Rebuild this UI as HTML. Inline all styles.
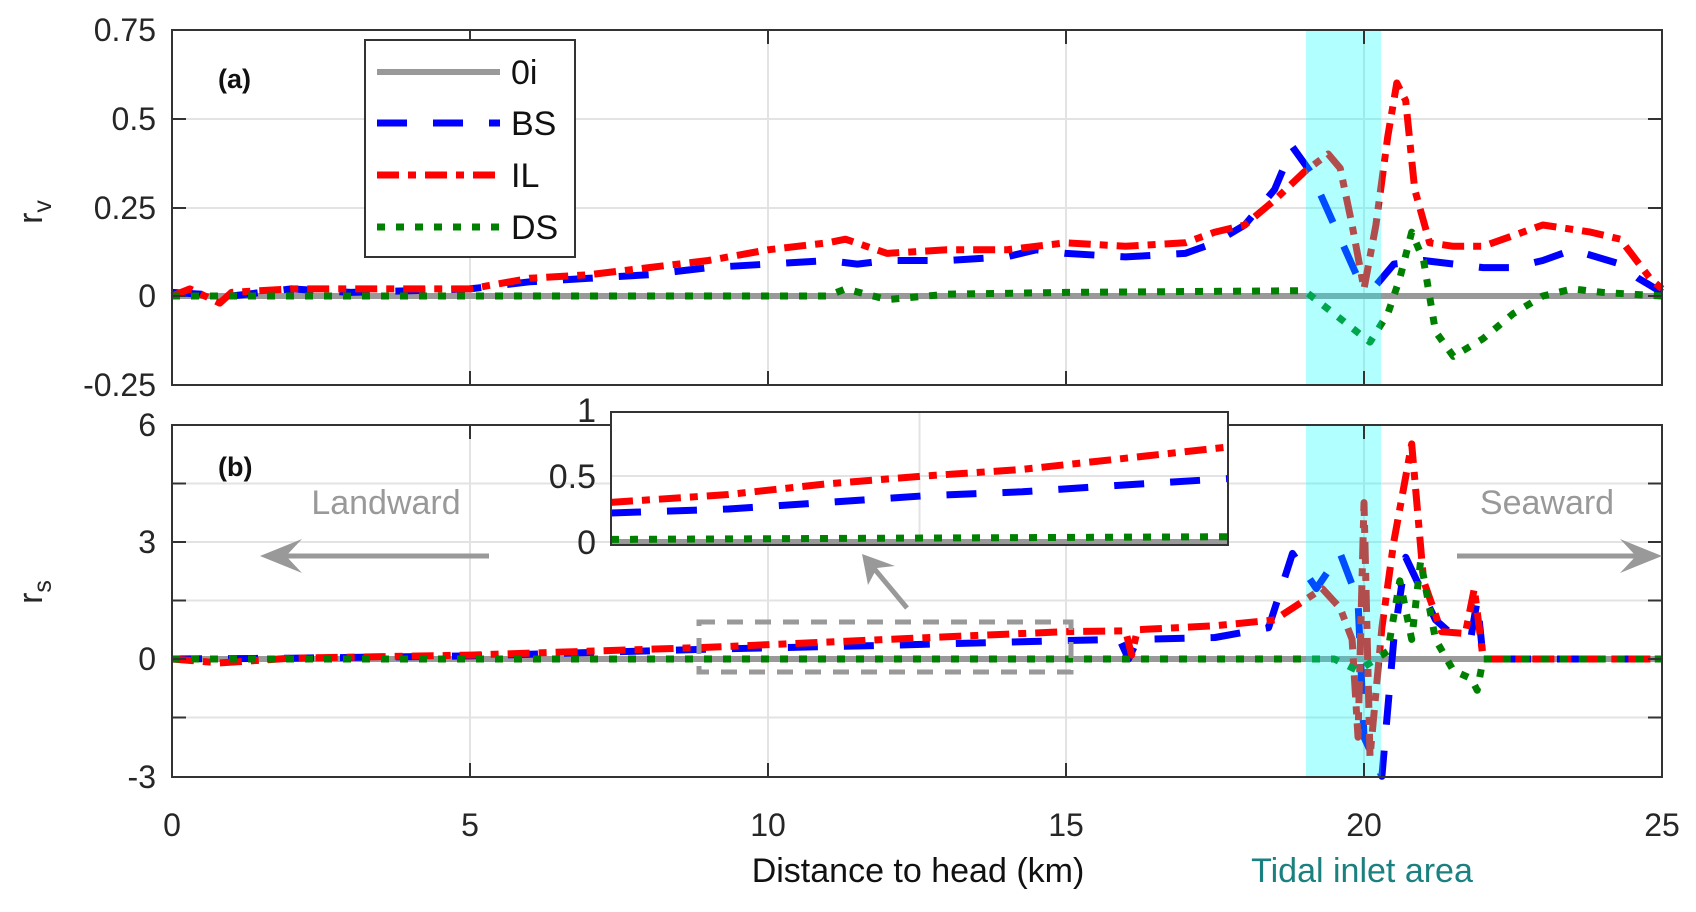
<!DOCTYPE html>
<html><head><meta charset="utf-8"><style>
body{margin:0;background:#fff}
svg{display:block;font-family:"Liberation Sans",Arial,sans-serif}
</style></head><body>
<svg id="s" width="1696" height="912" xmlns="http://www.w3.org/2000/svg"></svg>
<script>
const S=document.getElementById('s');let h='';
const L=172,R=1662;
const X=k=>L+k*(R-L)/25;
const Ya=v=>296-v*355;
const Yb=v=>659-v*39.11;
function poly(pts,fx,fy,st){return '<polyline fill="none" stroke-linejoin="round" points="'+pts.map(p=>fx(p[0]).toFixed(1)+','+fy(p[1]).toFixed(1)).join(' ')+'" '+st+'/>';}
const BS='stroke="#0000ff" stroke-width="7" stroke-dasharray="30 26"';
const IL='stroke="#ff0000" stroke-width="7" stroke-dasharray="22 9 8 9"';
const DS='stroke="#008000" stroke-width="7" stroke-dasharray="8 11"';
const GR='stroke="#999" stroke-width="6"';
function frame(top,bot,gridys){
 h+=`<rect x="${L}" y="${top}" width="${R-L}" height="${bot-top}" fill="#fff"/>`;
 for(let k=5;k<25;k+=5)h+=`<line x1="${X(k)}" y1="${top}" x2="${X(k)}" y2="${bot}" stroke="#e3e3e3" stroke-width="2"/>`;
 gridys.forEach(y=>h+=`<line x1="${L}" y1="${y}" x2="${R}" y2="${y}" stroke="#e3e3e3" stroke-width="2"/>`);
}
frame(30,385,[119,208,296]);
frame(425,777,[483.5,542,600.5,659,717.5]);
const aBS=[[0,0.01],[1,0],[2,0.02],[3,0.01],[4,0.015],[5,0.02],[6,0.04],[7,0.05],[8,0.06],[9,0.08],[10,0.09],[11,0.1],[11.5,0.09],[12,0.1],[13,0.1],[14,0.11],[14.5,0.13],[15,0.12],[16,0.11],[17,0.12],[17.5,0.15],[18,0.2],[18.5,0.3],[18.8,0.42],[19.1,0.35],[19.5,0.2],[19.9,0.05],[20.2,0.03],[20.5,0.09],[21,0.1],[22,0.08],[22.5,0.08],[23,0.1],[23.5,0.13],[24.3,0.09],[24.6,0.05],[25,0.01]];
const aIL=[[0,0],[0.3,0.02],[0.8,-0.02],[1,0.01],[2,0.02],[3,0.02],[4,0.02],[5,0.02],[6,0.05],[7,0.06],[8,0.08],[9,0.1],[10,0.13],[11,0.15],[11.3,0.16],[12,0.12],[13,0.13],[14,0.13],[15,0.15],[16,0.14],[17,0.15],[17.5,0.18],[18,0.2],[18.5,0.27],[19,0.35],[19.4,0.4],[19.6,0.36],[19.8,0.2],[20,0.02],[20.2,0.2],[20.4,0.45],[20.55,0.6],[20.7,0.55],[20.85,0.3],[21.1,0.15],[21.5,0.14],[22,0.14],[22.5,0.17],[23,0.2],[23.8,0.18],[24.3,0.16],[24.8,0.05],[25,0.02]];
const aDS=[[0,0],[11,0],[11.3,0.02],[12,-0.01],[13,0.005],[15,0.01],[19,0.015],[19.5,-0.05],[20.1,-0.13],[20.4,-0.05],[20.6,0.05],[20.8,0.18],[21,0.1],[21.2,-0.1],[21.5,-0.17],[22,-0.12],[22.5,-0.05],[23,0],[23.5,0.02],[24,0.01],[25,0]];
h+=poly([[0,0],[25,0]],X,Ya,GR)+poly(aBS,X,Ya,BS)+poly(aIL,X,Ya,IL)+poly(aDS,X,Ya,DS);
const bBS=[[0,0],[2,0.02],[5,0.08],[9,0.25],[12,0.35],[15,0.47],[15.9,0.5],[16.05,0],[16.2,0.5],[17.5,0.55],[18.4,0.8],[18.8,2.7],[19.2,1.8],[19.6,2.7],[19.9,1.5],[20,-2],[20.3,-3],[20.5,0.5],[20.7,2.6],[21.2,1],[21.5,0.6],[21.8,0.6],[21.9,1.5],[22,0],[25,0]];
const bIL=[[0,0],[0.8,-0.1],[2,0.02],[5,0.1],[9,0.3],[12,0.5],[15,0.7],[16,0.72],[16.1,0.1],[16.2,0.75],[17.5,0.85],[18.5,1],[19.3,1.8],[19.6,1.3],[19.8,0.5],[19.9,-2],[20,4],[20.1,-2.5],[20.3,0.8],[20.5,3],[20.8,5.5],[21,2],[21.3,0.7],[21.7,0.65],[21.85,1.8],[22,0],[25,0]];
const bDS=[[0,0],[19.5,0],[19.9,-0.3],[20.4,0.2],[20.6,2],[20.8,0.5],[20.95,2.5],[21.2,0.5],[21.5,-0.3],[21.8,-0.5],[21.9,-0.8],[22,0],[25,0]];
h+=poly([[0,0],[25,0]],X,Yb,GR)+poly(bBS,X,Yb,BS)+poly(bIL,X,Yb,IL)+poly(bDS,X,Yb,DS);
h+=`<rect x="1306" y="30" width="75" height="355" fill="#00ffff" opacity="0.3"/><rect x="1306" y="425" width="75" height="352" fill="#00ffff" opacity="0.3"/>`;
[[30,385],[425,777]].forEach(([t,b])=>{
 h+=`<rect x="${L}" y="${t}" width="${R-L}" height="${b-t}" fill="none" stroke="#333" stroke-width="2"/>`;
 for(let k=5;k<25;k+=5)h+=`<line x1="${X(k)}" y1="${t}" x2="${X(k)}" y2="${t+14}" stroke="#333" stroke-width="2"/><line x1="${X(k)}" y1="${b}" x2="${X(k)}" y2="${b-14}" stroke="#333" stroke-width="2"/>`;
});
[119,208,296].forEach(y=>h+=`<line x1="${L}" y1="${y}" x2="${L+14}" y2="${y}" stroke="#333" stroke-width="2"/><line x1="${R}" y1="${y}" x2="${R-14}" y2="${y}" stroke="#333" stroke-width="2"/>`);
[483.5,542,600.5,659,717.5].forEach(y=>h+=`<line x1="${L}" y1="${y}" x2="${L+14}" y2="${y}" stroke="#333" stroke-width="2"/><line x1="${R}" y1="${y}" x2="${R-14}" y2="${y}" stroke="#333" stroke-width="2"/>`);
const T=(x,y,t,a,extra)=>h+=`<text x="${x}" y="${y}" text-anchor="${a||'end'}" ${extra||'font-size="32" fill="#262626"'}>${t}</text>`;
[[30,'0.75'],[119,'0.5'],[208,'0.25'],[296,'0'],[385,'-0.25']].forEach(([y,t])=>T(156,y+11,t));
[[425,'6'],[542,'3'],[659,'0'],[777,'-3']].forEach(([y,t])=>T(156,y+11,t));
[0,5,10,15,20,25].forEach(k=>T(X(k),836,k,'middle'));
h+=`<text x="42" y="212" font-size="34" fill="#262626" transform="rotate(-90 42 212)" text-anchor="middle">r<tspan font-size="25" dy="9">v</tspan></text>`;
h+=`<text x="42" y="592" font-size="34" fill="#262626" transform="rotate(-90 42 592)" text-anchor="middle">r<tspan font-size="25" dy="9">s</tspan></text>`;
T(918,882,'Distance to head (km)','middle','font-size="34" fill="#111"');
T(1362,882,'Tidal inlet area','middle','font-size="34" fill="#1a8080"');
T(218,88,'(a)','start','font-size="27" font-weight="bold" fill="#111"');
T(218,476,'(b)','start','font-size="27" font-weight="bold" fill="#111"');
h+=`<rect x="365" y="40" width="210" height="217" fill="#fff" stroke="#333" stroke-width="2"/>`;
[[72,GR,'0i'],[123,BS,'BS'],[175,IL,'IL'],[227,DS,'DS']].forEach(([y,st,t])=>{h+=`<line x1="377" y1="${y}" x2="500" y2="${y}" ${st}/>`;T(511,y+12,t,'start','font-size="34" fill="#111"');});
T(386,514,'Landward','middle','font-size="34" fill="#999"');
T(1547,514,'Seaward','middle','font-size="34" fill="#999"');
h+=`<line x1="489" y1="556" x2="275" y2="556" stroke="#999" stroke-width="5"/><polygon points="260,556 302,539 286,556 302,573" fill="#999"/>`;
h+=`<line x1="1457" y1="556" x2="1648" y2="556" stroke="#999" stroke-width="5"/><polygon points="1662,556 1620,539 1636,556 1620,573" fill="#999"/>`;
h+=`<line x1="907" y1="608" x2="872" y2="566" stroke="#999" stroke-width="5"/><polygon points="862,554 868,585 877,568 895,566" fill="#999"/>`;
h+=`<rect x="699" y="622" width="372" height="50" fill="none" stroke="#999" stroke-width="5" stroke-dasharray="16 12"/>`;
const iL=611,iR=1228,iT=412,iB=545;
const iX=k=>iL+(k-8.8)*(iR-iL)/(15.1-8.8), iY=v=>iB-3-v*132;
h+=`<rect x="${iL}" y="${iT}" width="${iR-iL}" height="${iB-iT}" fill="#fff" stroke="#333" stroke-width="2"/>`;
h+=`<line x1="${(iL+iR)/2}" y1="${iT}" x2="${(iL+iR)/2}" y2="${iB}" stroke="#e3e3e3" stroke-width="2"/><line x1="${iL}" y1="${iY(0.5)}" x2="${iR}" y2="${iY(0.5)}" stroke="#e3e3e3" stroke-width="2"/>`;
h+=poly([[8.8,0],[15.1,0]],iX,iY,GR)+poly([[8.8,0.22],[10,0.25],[11,0.3],[12,0.35],[13,0.38],[14,0.43],[15.1,0.48]],iX,iY,BS)+poly([[8.8,0.3],[10,0.36],[11,0.44],[12,0.5],[13,0.55],[14,0.63],[15.1,0.72]],iX,iY,IL)+poly([[8.8,0.02],[15.1,0.04]],iX,iY,DS);
h+=`<rect x="${iL}" y="${iT}" width="${iR-iL}" height="${iB-iT}" fill="none" stroke="#333" stroke-width="2"/>`;
[[1,'1'],[0.5,'0.5'],[0,'0']].forEach(([v,t])=>T(iL-15,iY(v)+12,t,'end','font-size="34" fill="#262626"'));
S.innerHTML=h;
</script>
</body></html>
